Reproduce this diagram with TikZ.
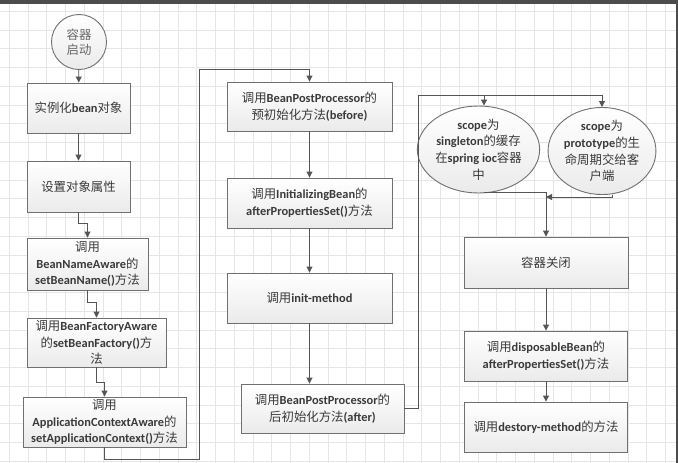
\documentclass[tikz,border=0pt]{standalone}
\usepackage{fontspec}
\setmainfont{Carlito}
\newfontfamily\zhfont{Noto Sans CJK SC}
\usetikzlibrary{arrows.meta, shapes.geometric}
\newcommand{\zh}[1]{{\zhfont\mdseries #1}}
\definecolor{gridgray}{HTML}{E6E6E6}
\definecolor{boxgray}{HTML}{707070}
\definecolor{linegray}{HTML}{555555}
\definecolor{textgray}{HTML}{3A3A3A}
\tikzset{
  stepbox/.style={draw=boxgray, line width=0.9pt, top color=white, bottom color=black!8,
    align=center, inner sep=1pt},
  scopeoval/.style={ellipse, draw=boxgray, line width=0.9pt, top color=white, bottom color=black!8,
    align=center, inner sep=0pt},
  flow/.style={->, draw=linegray, line width=0.9pt},
  gridline/.style={draw=gridgray, line width=0.7pt}
}
\begin{document}
\begin{tikzpicture}[x=1pt, y=-1pt, >={Triangle[length=6pt,width=6pt]},
    font=\fontsize{12.4}{16.7}\selectfont\bfseries, text=textgray]
\useasboundingbox (0,0) rectangle (678,463);
% paper and grid
\fill[white] (0,0) rectangle (678,463);
\foreach \i in {0,...,35}
  \draw[gridline] ({9.1+18.75*\i},4) -- ++(0,459);
\foreach \j in {0,...,24}
  \draw[gridline] (0,{11.1+18.75*\j}) -- (676,{11.1+18.75*\j});
\fill[black!70] (0,0) rectangle (678,3.5);
\fill[black!70] (675.5,0) rectangle (678,463);

% first column
\node[circle, draw=boxgray, line width=0.9pt, top color=white, bottom color=black!8,
  minimum size=55, inner sep=0pt, align=center, text=black!60] (start) at (79,42) {\zh{容器}\\[-2pt]\zh{启动}};
\node[stepbox, minimum width=103, minimum height=50] (new) at (78.5,108) {\zh{实例化}bean\zh{对象}};
\node[stepbox, minimum width=103, minimum height=51] (props) at (78.5,186.5) {\zh{设置对象属性}};
\node[stepbox, minimum width=121, minimum height=52] (nameaware) at (87.5,264)
  {\zh{调用}\\BeanNameAware\zh{的}\\setBeanName()\zh{方法}};
\node[stepbox, minimum width=139, minimum height=49] (factoryaware) at (96.5,342.5)
  {\zh{调用}BeanFactoryAware\\\zh{的}setBeanFactory()\zh{方}\\\zh{法}};
\node[stepbox, minimum width=163, minimum height=50] (ctxaware) at (104.5,422)
  {\zh{调用}\\ApplicationContextAware\zh{的}\\setApplicationContext()\zh{方法}};

% second column
\node[stepbox, minimum width=165, minimum height=49] (before) at (309.5,106.5)
  {\zh{调用}BeanPostProcessor\zh{的}\\\zh{预初始化方法}(before)};
\node[stepbox, minimum width=165, minimum height=50] (initbean) at (309.5,203)
  {\zh{调用}InitializingBean\zh{的}\\afterPropertiesSet()\zh{方法}};
\node[stepbox, minimum width=165, minimum height=50] (initmethod) at (309.5,298)
  {\zh{调用}init-method};
\node[stepbox, minimum width=163, minimum height=49] (after) at (322.5,408.5)
  {\zh{调用}BeanPostProcessor\zh{的}\\\zh{后初始化方法}(after)};

% third column
\node[scopeoval, minimum width=97, minimum height=75] (singleton) at (478.5,149.5)
  {scope\zh{为}\\singleton\zh{的缓存}\\\zh{在}spring ioc\zh{容器}\\\zh{中}};
\node[scopeoval, minimum width=97, minimum height=77] (prototype) at (602,151)
  {scope\zh{为}\\prototype\zh{的生}\\\zh{命周期交给客}\\\zh{户端}};
\node[stepbox, minimum width=164, minimum height=51] (close) at (546,262.5) {\zh{容器关闭}};
\node[stepbox, minimum width=163, minimum height=50] (disposable) at (546,356)
  {\zh{调用}disposableBean\zh{的}\\afterPropertiesSet()\zh{方法}};
\node[stepbox, minimum width=163, minimum height=50] (destroy) at (546,427)
  {\zh{调用}destory-method\zh{的方法}};

% connectors
\coordinate (loopA) at (199,459);
\coordinate (loopB) at (199,69);
\coordinate (railR) at (418,95);
\coordinate (split) at (484,95);
\coordinate (join) at (546,192);
\coordinate (joinR) at (546,197);

\draw[flow] (start) -- (new);
\draw[flow] (new) -- (props);
\draw[flow] (props.south) -- ++(0,11) -| (nameaware.north);
\draw[flow] (nameaware.south) -- ++(0,12) -| (factoryaware.north);
\draw[flow] (factoryaware.south) -- ++(0,15) -| (ctxaware.north);
\draw[flow] (ctxaware.south) |- (loopA) -- (loopB) -| (before.north);
\draw[flow] (before) -- (initbean);
\draw[flow] (initbean) -- (initmethod);
\draw[flow] (initmethod.south) -- (initmethod.south |- after.north);
\draw[flow] (after.east) -| (railR) -| (prototype.north);
\draw[flow] (split) -- (split |- singleton.north);
\draw[flow] (split |- singleton.south) |- (join) -- (close.north);
\draw[flow] ([xshift=10pt]prototype.south) |- (joinR);
\draw[flow] (close) -- (disposable);
\draw[flow] (disposable) -- (destroy);
\end{tikzpicture}
\end{document}
